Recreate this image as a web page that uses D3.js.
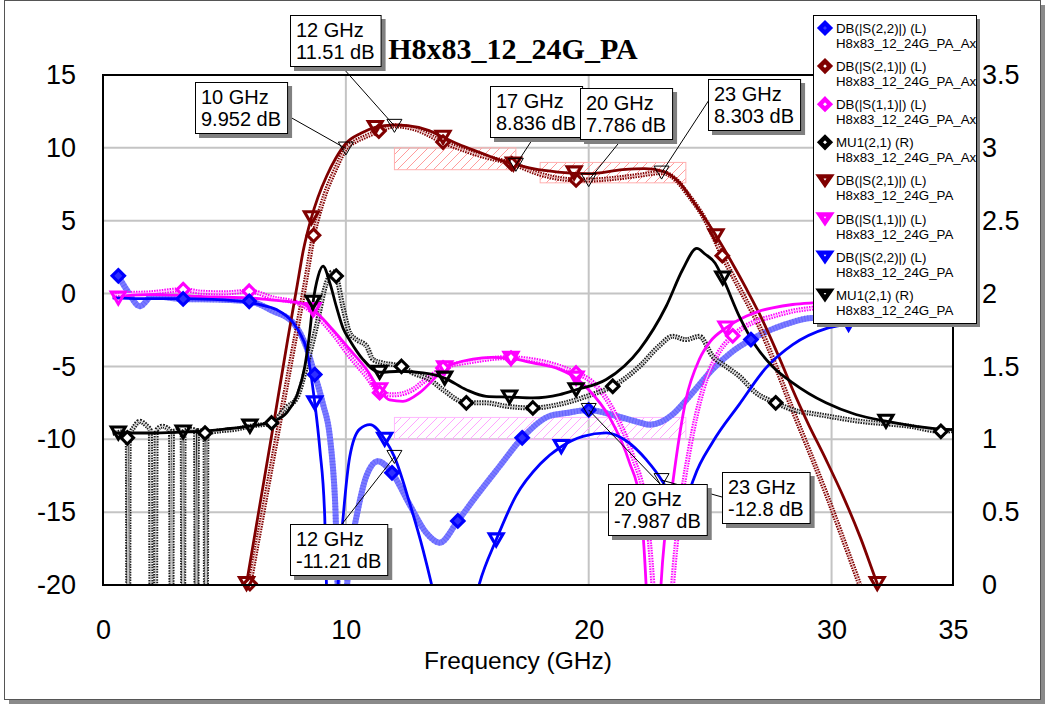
<!DOCTYPE html>
<html>
<head>
<meta charset="utf-8">
<script src="https://cdn.jsdelivr.net/npm/d3@7"></script>
<style>
  body { margin: 0; background: #fff; }
  svg { display: block; }
</style>
</head>
<body>
<svg id="chart" width="1045" height="704"></svg>
<script>
// ---------------- data ----------------
const xTicks = [0, 10, 20, 30, 35];
const yLeftTicks = [15, 10, 5, 0, -5, -10, -15, -20];
const yRightTicks = [3.5, 3, 2.5, 2, 1.5, 1, 0.5, 0];
const xGrid = [10, 20, 30];
const yGrid = [10, 5, 0, -5, -10, -15];

// [frequency GHz, dB]  (measured "Ax" traces)
const s22AxPts = [[0.6,1.3],[1.0,0.2],[1.52,-0.87],[2.07,-0.1],[2.6,-0.25],[3.3,-0.37],[4.68,-0.41],[6.02,-0.53],[7.0,-1.2],[7.83,-2.0],[8.38,-3.7],[8.72,-5.56],[9.06,-7.6],[9.34,-9.8],[9.55,-14],[9.8,-26],[10.05,-20],[10.2,-17.5],[10.44,-15.3],[10.85,-12.5],[11.32,-11.5],[11.9,-12.3],[12.6,-14.4],[13.3,-16.4],[13.86,-17.1],[14.61,-15.6],[15.37,-13.9],[16.33,-11.85],[17.26,-9.9],[18.39,-8.4],[19.07,-8.2],[20.0,-7.987],[21.13,-8.4],[22.0,-8.8],[22.5,-9.0],[23.0,-8.8],[23.45,-8.3],[24.15,-7.05],[25.1,-5.2],[25.9,-4.0],[26.68,-3.16],[28.12,-2.1],[29.22,-1.67],[30.7,-1.75],[32,-1.6],[35,-1.5]];
const s21AxPts = [[5.5,-25],[6.05,-19.9],[6.6,-14.9],[7.2,-9.5],[7.8,-4.1],[8.2,-0.5],[8.45,1.9],[8.67,4.0],[8.9,5.5],[9.14,6.8],[9.59,8.6],[10.0,9.952],[10.4,10.45],[10.77,10.75],[11.36,11.15],[12.0,11.51],[12.84,11.3],[14.0,10.4],[15.5,9.5],[17.0,8.836],[17.8,8.3],[18.6,7.95],[19.48,7.8],[20.0,7.786],[21.0,7.9],[22.0,8.1],[23.0,8.303],[23.6,7.8],[24.06,6.86],[24.8,5.05],[25.5,2.6],[26.0,1.0],[27.03,-2.27],[28.4,-8.0],[29.77,-13.7],[31.14,-19.9],[31.7,-22.5]];
const s11AxPts = [[0.4,-0.1],[1.0,0.0],[1.93,0.05],[3.3,0.27],[4.0,0.1],[5.0,0.05],[6.02,0.16],[7.0,-0.3],[8.1,-0.7],[8.65,-1.3],[9.47,-2.75],[10.16,-4.3],[10.85,-5.67],[11.39,-6.8],[11.94,-6.95],[12.63,-6.7],[13.31,-5.9],[14.0,-5.1],[15.23,-4.65],[16.6,-4.4],[17.7,-4.55],[18.8,-5.0],[19.48,-5.45],[20.17,-6.1],[21.13,-8.4],[21.82,-11.2],[22.36,-14.8],[22.64,-19.9],[23.05,-32],[23.46,-19.9],[23.73,-15.3],[24.15,-10.7],[24.7,-6.6],[25.3,-4.2],[25.93,-2.9],[26.88,-1.9],[27.5,-1.6],[28.4,-1.2],[29.22,-1.0],[31,-0.8],[35,-0.7]];
// [frequency GHz, MU1]
const muAxPts = [[0.4,1.04],[0.8,1.05],[1.0,1.01],[1.04,-1.5],[1.08,1.01],[1.3,1.09],[1.52,1.124],[1.75,1.10],[1.95,1.06],[2.0,-1.5],[2.14,-1.5],[2.19,1.06],[2.45,1.09],[2.62,1.08],[2.78,1.05],[2.82,-1.5],[2.86,1.05],[3.1,1.06],[3.26,1.05],[3.3,-1.5],[3.34,1.05],[3.6,1.07],[3.81,1.06],[3.85,-1.5],[3.89,1.06],[4.2,1.043],[4.24,-1.5],[4.28,1.043],[4.68,1.055],[5.5,1.07],[6.05,1.09],[6.94,1.112],[7.55,1.22],[7.97,1.28],[8.38,1.5],[8.79,1.776],[9.2,2.073],[9.45,2.15],[9.6,2.12],[9.89,1.9],[10.16,1.73],[10.44,1.684],[10.85,1.64],[11.12,1.547],[11.53,1.524],[12.29,1.5],[12.76,1.455],[13.45,1.41],[14.0,1.34],[14.96,1.25],[15.78,1.25],[16.6,1.227],[17.7,1.215],[18.8,1.24],[20.0,1.30],[20.99,1.364],[22.09,1.50],[22.9,1.64],[23.46,1.707],[24.0,1.684],[24.56,1.707],[25.1,1.57],[25.65,1.50],[26.2,1.433],[26.88,1.32],[27.7,1.25],[28.67,1.19],[29.08,1.18],[31.14,1.124],[33.2,1.09],[34.5,1.055],[35,1.06]];

// [frequency GHz, dB]  (simulated PA traces)
const s21PaPts = [[5.4,-25],[5.91,-19.9],[6.5,-14.1],[7.08,-8.4],[7.6,-3.2],[8.0,0.6],[8.24,2.9],[8.58,5.2],[8.85,6.6],[9.22,8.1],[9.59,9.3],[10.0,10.3],[10.62,11.0],[11.21,11.4],[11.95,11.57],[12.54,11.52],[13.43,11.18],[14.0,10.73],[14.76,10.16],[15.5,9.7],[16.38,9.14],[16.97,8.86],[17.71,8.57],[18.74,8.34],[20.0,8.23],[21.4,8.5],[22.29,8.57],[23.03,8.41],[23.77,7.55],[24.36,6.18],[25.1,4.36],[25.83,2.32],[26.5,0.3],[27.03,-1.4],[28.0,-5.0],[28.4,-6.6],[29.0,-8.8],[29.77,-11.4],[30.5,-14.0],[31.2,-16.8],[31.88,-19.9],[32.5,-22.5]];
const s11PaPts = [[0.4,-0.3],[0.63,-0.3],[1.2,-0.1],[1.93,-0.07],[3.0,-0.1],[4.0,-0.2],[5.0,-0.25],[6.05,-0.3],[7.0,-0.45],[8.1,-0.64],[8.65,-1.1],[9.47,-2.5],[10.16,-3.84],[10.85,-5.2],[11.39,-6.6],[11.8,-7.3],[12.35,-7.4],[13.04,-6.8],[13.86,-5.45],[14.07,-5.1],[15.23,-4.5],[16.0,-4.38],[16.8,-4.45],[17.7,-4.76],[18.8,-5.2],[19.48,-5.8],[20.0,-6.6],[20.86,-8.5],[21.68,-11.6],[22.1,-14.1],[22.36,-19.9],[22.67,-34],[22.98,-19.9],[23.46,-13.0],[24.0,-7.3],[24.56,-4.5],[25.0,-3.3],[25.65,-2.36],[26.48,-1.56],[27.03,-1.2],[27.57,-0.98],[28.4,-0.75],[29.22,-0.64],[30.5,-0.55],[32,-0.5],[35,-0.5]];
const s22PaPts = [[0.4,-0.3],[1.5,-0.35],[3,-0.35],[4.5,-0.4],[6.0,-0.6],[6.46,-0.76],[7.14,-1.1],[7.83,-2.0],[8.1,-2.7],[8.38,-3.84],[8.72,-7.5],[8.93,-10.7],[9.13,-15.3],[9.2,-19.9],[9.45,-32],[9.68,-19.9],[9.89,-15.3],[10.16,-11.2],[10.57,-9.3],[10.99,-9.0],[11.6,-10.0],[12.0,-11.21],[12.63,-14.4],[13.18,-17.6],[13.52,-19.9],[14.5,-28],[15.5,-19.9],[16.19,-16.9],[17.0,-13.9],[18.0,-11.7],[18.87,-10.5],[19.76,-9.8],[20.72,-9.56],[21.54,-10.1],[22.37,-11.4],[23.0,-12.8],[23.46,-14.3],[23.75,-16.0],[24.0,-14.8],[24.1,-13.9],[24.35,-12.6],[25.1,-10.2],[26.2,-7.6],[27.3,-5.1],[28.4,-3.5],[29.77,-2.4],[30.7,-2.1],[32,-1.8],[35,-1.6]];
const muPaPts = [[0.4,1.043],[0.63,1.043],[1.93,1.043],[3.3,1.05],[4.0,1.055],[5.0,1.07],[6.05,1.09],[7.0,1.124],[7.55,1.18],[7.97,1.295],[8.31,1.5],[8.51,1.73],[8.65,1.94],[8.86,2.12],[9.06,2.188],[9.34,2.073],[9.61,1.91],[9.89,1.76],[10.16,1.68],[10.71,1.547],[11.39,1.46],[12.22,1.467],[13.18,1.455],[14.07,1.42],[14.96,1.34],[15.78,1.295],[16.74,1.29],[17.7,1.284],[18.8,1.307],[19.48,1.34],[20.72,1.41],[22.09,1.616],[23.19,1.913],[23.87,2.165],[24.45,2.31],[24.8,2.27],[25.2,2.21],[25.52,2.107],[26.2,1.844],[26.88,1.64],[27.57,1.5],[28.4,1.387],[29.77,1.25],[31.0,1.17],[32.24,1.124],[34.98,1.066],[35,1.066]];

// symbol positions along each trace (GHz)
const s22AxMarks = [0.63, 3.3, 6.02, 8.72, 11.9, 14.61, 17.26, 20.0, 26.68, 30.7];
const s21AxMarks = [6.05, 8.67, 11.36, 14.0, 16.83, 19.48, 25.5];
const s11AxMarks = [3.3, 6.02, 11.39, 14.0, 16.8, 19.48, 25.93];
const muAxMarks  = [1.0, 4.2, 6.94, 9.6, 12.29, 14.96, 17.7, 20.99, 27.7, 34.5];
const s21PaMarks = [5.91, 8.58, 11.21, 14.0, 16.9, 19.4, 25.24, 31.88];
const s11PaMarks = [0.63, 8.65, 11.39, 14.07, 16.8, 19.48, 25.65];
const s22PaMarks = [8.72, 11.6, 16.19, 18.87, 24.1, 30.7];
const muPaMarks  = [0.63, 3.3, 6.05, 8.65, 11.39, 14.07, 16.74, 19.48, 25.52, 32.24];

// readout markers
const readoutFreq = [12, 10, 17, 20, 23, 12, 20, 23];
const readoutDb   = [11.51, 9.952, 8.836, 7.786, 8.303, -11.21, -7.987, -12.8];

// hatched limit windows: [fStart, fEnd, dbLow, dbHigh]
const gainWindow1 = [12, 17, 8.5, 10];
const gainWindow2 = [18, 24, 7.6, 9.0];
const matchWindow = [12, 24, -10, -8.5];

const legendNames = ["DB(|S(2,2)|) (L)", "DB(|S(2,1)|) (L)", "DB(|S(1,1)|) (L)", "MU1(2,1) (R)",
                     "DB(|S(2,1)|) (L)", "DB(|S(1,1)|) (L)", "DB(|S(2,2)|) (L)", "MU1(2,1) (R)"];
const legendSources = ["H8x83_12_24G_PA_Ax", "H8x83_12_24G_PA_Ax", "H8x83_12_24G_PA_Ax", "H8x83_12_24G_PA_Ax",
                       "H8x83_12_24G_PA", "H8x83_12_24G_PA", "H8x83_12_24G_PA", "H8x83_12_24G_PA"];

// ---------------- layout ----------------
const svg = d3.select("#chart");
const plot = { left: 103, right: 953, top: 75, bottom: 585 };
const x = d3.scaleLinear().domain([0, 35]).range([plot.left, plot.right]);
const yL = d3.scaleLinear().domain([-20, 15]).range([plot.bottom, plot.top]);
const yR = d3.scaleLinear().domain([0, 3.5]).range([plot.bottom, plot.top]);

const DARKRED = "#800000", MAGENTA = "#ff00ff", BLUE = "#0000ff", BLACK = "#000000";
const SANS = "'Liberation Sans', Arial, sans-serif";

const defs = svg.append("defs");
defs.append("clipPath").attr("id", "plotClip").append("rect")
  .attr("x", plot.left).attr("y", plot.top)
  .attr("width", plot.right - plot.left).attr("height", plot.bottom - plot.top);

function hatchPattern(id, color) {
  const p = defs.append("pattern").attr("id", id)
    .attr("patternUnits", "userSpaceOnUse").attr("width", 9).attr("height", 9);
  p.append("path").attr("d", "M-1,10 L10,-1 M-1,1 L1,-1 M8,10 L10,8")
    .attr("stroke", color).attr("stroke-width", 1);
}
hatchPattern("hatchRed", "#ff9c9c");
hatchPattern("hatchPink", "#ffa6ff");

// outer frame with drop shadow
svg.append("rect").attr("x", 9).attr("y", 5).attr("width", 1036).attr("height", 699).attr("fill", "#8a8a8a");
svg.append("rect").attr("x", 4.5).attr("y", 0.5).attr("width", 1036).attr("height", 699)
  .attr("fill", "#fff").attr("stroke", "#555").attr("stroke-width", 1);

// title
svg.append("text").attr("x", 513).attr("y", 59).attr("text-anchor", "middle")
  .attr("font-family", "'Liberation Serif', 'Times New Roman', serif")
  .attr("font-weight", "bold").attr("font-size", 30).text("H8x83_12_24G_PA");

// grid
const grid = svg.append("g");
grid.selectAll("line.v").data(xGrid).join("line")
  .attr("x1", d => x(d)).attr("x2", d => x(d)).attr("y1", plot.top).attr("y2", plot.bottom)
  .attr("stroke", "#c4c4c4").attr("stroke-width", 2);
grid.selectAll("line.h").data(yGrid).join("line")
  .attr("x1", plot.left).attr("x2", plot.right).attr("y1", d => yL(d)).attr("y2", d => yL(d))
  .attr("stroke", "#c4c4c4").attr("stroke-width", 2);

// limit windows
function limitWindow(w, fill, edge) {
  svg.append("rect")
    .attr("x", x(w[0])).attr("width", x(w[1]) - x(w[0]))
    .attr("y", yL(w[3])).attr("height", yL(w[2]) - yL(w[3]))
    .attr("fill", fill).attr("stroke", edge).attr("stroke-width", 1);
}
limitWindow(gainWindow1, "url(#hatchRed)", "#ffb0b0");
limitWindow(gainWindow2, "url(#hatchRed)", "#ffb0b0");
limitWindow(matchWindow, "url(#hatchPink)", "#ffb8ff");

// axes
const tickFont = 27;
const axL = svg.append("g").attr("transform", `translate(${plot.left},0)`)
  .call(d3.axisLeft(yL).tickValues(yLeftTicks).tickSize(0).tickPadding(27).tickFormat(d => String(d)));
const axR = svg.append("g").attr("transform", `translate(${plot.right},0)`)
  .call(d3.axisRight(yR).tickValues(yRightTicks).tickSize(0).tickPadding(29).tickFormat(d => String(d)));
const axB = svg.append("g").attr("transform", `translate(0,${plot.bottom})`)
  .call(d3.axisBottom(x).tickValues(xTicks).tickSize(0).tickPadding(35).tickFormat(d => String(d)));
[axL, axR, axB].forEach(a => {
  a.select(".domain").remove();
  a.selectAll("text").attr("font-family", SANS).attr("font-size", tickFont).attr("fill", "#000");
});
svg.append("text").attr("x", 518).attr("y", 669).attr("text-anchor", "middle")
  .attr("font-family", SANS).attr("font-size", 24.5).text("Frequency (GHz)");

// traces
const traces = svg.append("g").attr("clip-path", "url(#plotClip)");
function lineGen(yScale) {
  return d3.line().x(d => x(d[0])).y(d => yScale(d[1])).curve(d3.curveMonotoneX);
}
function measuredTrace(pts, yScale, color, core) {
  const d = lineGen(yScale)(pts);
  traces.append("path").attr("d", d).attr("fill", "none").attr("stroke", color)
    .attr("stroke-width", 5).attr("stroke-dasharray", "1.5 1.1");
  traces.append("path").attr("d", d).attr("fill", "none").attr("stroke", core)
    .attr("stroke-width", 1.2);
}
function simTrace(pts, yScale, color) {
  traces.append("path").attr("d", lineGen(yScale)(pts)).attr("fill", "none")
    .attr("stroke", color).attr("stroke-width", 2.8).attr("stroke-linejoin", "round");
}

// S22 measured: wide translucent blue band
{
  const d = lineGen(yL)(s22AxPts);
  traces.append("path").attr("d", d).attr("fill", "none").attr("stroke", "#7c7cff").attr("stroke-width", 6);
  traces.append("path").attr("d", d).attr("fill", "none").attr("stroke", "#5555ff")
    .attr("stroke-width", 6).attr("stroke-dasharray", "1 2").attr("opacity", 0.6);
}
measuredTrace(s21AxPts, yL, DARKRED, "#e6b4b4");
measuredTrace(s11AxPts, yL, MAGENTA, "#ffc0ff");
measuredTrace(muAxPts, yR, "#1e1e1e", "#c8c8c8");
simTrace(s21PaPts, yL, DARKRED);
simTrace(s11PaPts, yL, MAGENTA);
simTrace(s22PaPts, yL, BLUE);
simTrace(muPaPts, yR, BLACK);

// symbols
function valueAt(pts, f) {
  for (let i = 0; i < pts.length - 1; i++) {
    if (f >= pts[i][0] && f <= pts[i + 1][0]) {
      const t = (f - pts[i][0]) / (pts[i + 1][0] - pts[i][0]);
      return pts[i][1] + t * (pts[i + 1][1] - pts[i][1]);
    }
  }
  return pts[pts.length - 1][1];
}
const diamondPath = s => `M0,${-s} L${s},0 L0,${s} L${-s},0 Z`;
const triPath = (w, h) => `M${-w / 2},${-h / 2} L${w / 2},${-h / 2} L0,${h / 2} Z`;

const symbols = svg.append("g");
function drawSymbols(pts, marks, yScale, shape, color, fill) {
  const dom = yScale.domain();
  marks.forEach(f => {
    const v = valueAt(pts, f);
    if (v < dom[0] - 0.3 || v > dom[1]) return;
    symbols.append("path")
      .attr("d", shape === "diamond" ? diamondPath(6.2) : triPath(14, 12))
      .attr("transform", `translate(${x(f)},${yScale(v)})`)
      .attr("fill", fill).attr("stroke", color).attr("stroke-width", 3.1)
      .attr("stroke-linejoin", "miter");
  });
}
drawSymbols(s21AxPts, s21AxMarks, yL, "diamond", DARKRED, "#fff");
drawSymbols(s11AxPts, s11AxMarks, yL, "diamond", MAGENTA, "#fff");
drawSymbols(muAxPts, muAxMarks, yR, "diamond", BLACK, "#fff");
drawSymbols(s22AxPts, s22AxMarks, yL, "diamond", BLUE, "#2f2fff");
drawSymbols(s21PaPts, s21PaMarks, yL, "tri", DARKRED, "none");
drawSymbols(s11PaPts, s11PaMarks, yL, "tri", MAGENTA, "none");
drawSymbols(s22PaPts, s22PaMarks, yL, "tri", BLUE, "none");
drawSymbols(muPaPts, muPaMarks, yR, "tri", BLACK, "none");

// plot frame
svg.append("rect").attr("x", plot.left).attr("y", plot.top)
  .attr("width", plot.right - plot.left).attr("height", plot.bottom - plot.top)
  .attr("fill", "none").attr("stroke", "#000").attr("stroke-width", 2);

// readouts: hollow marker, leader line and boxed label
const boxLayout = [
  { left: 290, top: 15,  ax: 343, ay: 68 },
  { left: 195, top: 82,  ax: 290, ay: 117 },
  { left: 490, top: 86,  ax: 534, ay: 137 },
  { left: 580, top: 88,  ax: 622, ay: 139 },
  { left: 708, top: 79,  ax: 709, ay: 100 },
  { left: 290, top: 524, ax: 342, ay: 524 },
  { left: 608, top: 484, ax: 660, ay: 484 },
  { left: 722, top: 472, ax: 722, ay: 497 }
];
const readouts = svg.append("g");
readoutFreq.forEach((f, i) => {
  const px = x(f), py = yL(readoutDb[i]), b = boxLayout[i];
  readouts.append("line").attr("x1", b.ax).attr("y1", b.ay).attr("x2", px).attr("y2", py)
    .attr("stroke", "#000").attr("stroke-width", 1);
  readouts.append("path").attr("d", triPath(15, 13)).attr("transform", `translate(${px},${py})`)
    .attr("fill", "none").attr("stroke", "#000").attr("stroke-width", 1);
});
readoutFreq.forEach((f, i) => {
  const b = boxLayout[i];
  const g = readouts.append("g");
  const shadow = g.append("rect").attr("fill", "#808080");
  const box = g.append("rect").attr("fill", "#fff").attr("stroke", "#000").attr("stroke-width", 1);
  const t1 = g.append("text").attr("x", b.left + 6).attr("y", b.top + 22)
    .attr("font-family", SANS).attr("font-size", 20).text(`${f} GHz`);
  const t2 = g.append("text").attr("x", b.left + 6).attr("y", b.top + 44)
    .attr("font-family", SANS).attr("font-size", 20).text(`${readoutDb[i]} dB`);
  const w = Math.max(t1.node().getComputedTextLength(), t2.node().getComputedTextLength()) + 12;
  const h = 51;
  box.attr("x", b.left + 0.5).attr("y", b.top + 0.5).attr("width", w).attr("height", h);
  shadow.attr("x", b.left + 4).attr("y", b.top + 4).attr("width", w + 1).attr("height", h + 1);
});

// legend
const lg = svg.append("g");
const lgBox = { left: 813, top: 15, width: 163, height: 308 };
lg.append("rect").attr("x", lgBox.left + 4).attr("y", lgBox.top + 4)
  .attr("width", lgBox.width).attr("height", lgBox.height).attr("fill", "#808080");
lg.append("rect").attr("x", lgBox.left + 0.5).attr("y", lgBox.top + 0.5)
  .attr("width", lgBox.width).attr("height", lgBox.height)
  .attr("fill", "#fff").attr("stroke", "#000").attr("stroke-width", 1);
const legendColors = [BLUE, DARKRED, MAGENTA, BLACK, DARKRED, MAGENTA, BLUE, BLACK];
legendNames.forEach((name, i) => {
  const cy = 28 + i * 38.1;
  const isDiamond = i < 4;
  lg.append("path")
    .attr("d", isDiamond ? diamondPath(5) : triPath(11, 8))
    .attr("transform", `translate(825,${cy})`)
    .attr("fill", i === 0 ? "#3a3aff" : "#fff")
    .attr("stroke", legendColors[i]).attr("stroke-width", 4.4);
  lg.append("text").attr("x", 836).attr("y", cy + 5)
    .attr("font-family", SANS).attr("font-size", 13.3).text(name);
  lg.append("text").attr("x", 836).attr("y", cy + 20)
    .attr("font-family", SANS).attr("font-size", 13.3).text(legendSources[i]);
});
</script>
</body>
</html>
